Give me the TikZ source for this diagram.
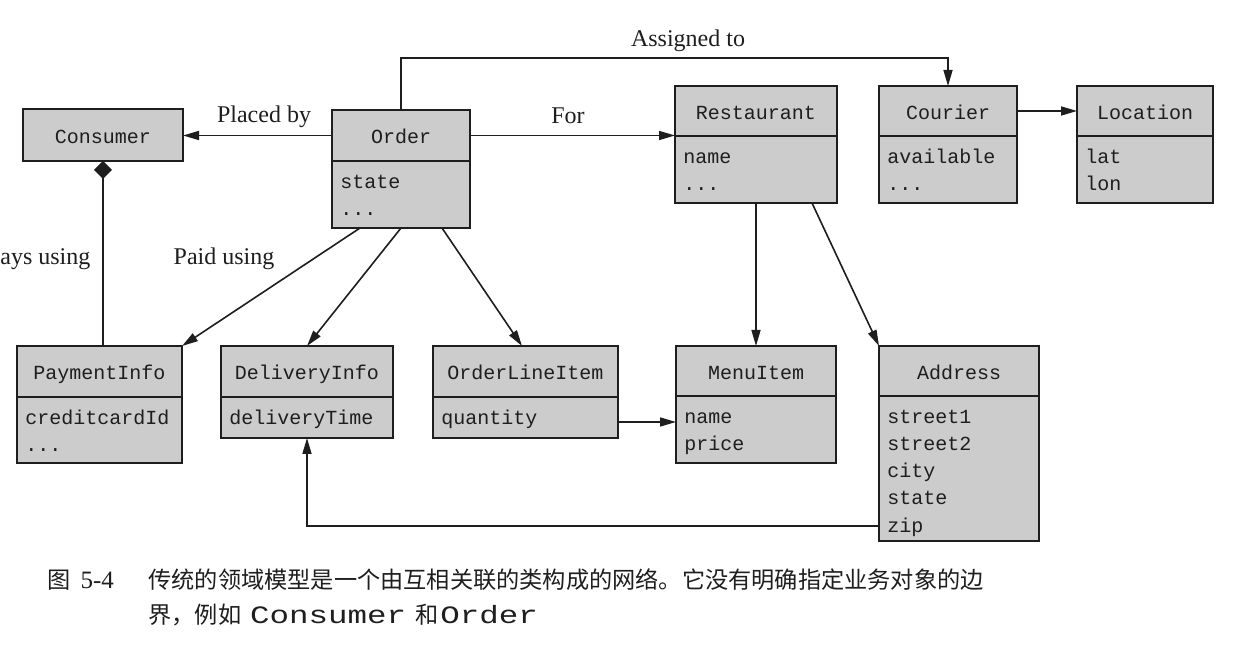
\documentclass[tikz,border=0pt]{standalone}
\usepackage{fontspec}
\setmainfont{Liberation Serif}
\newfontfamily\cjk{Noto Sans CJK SC}
\newfontfamily\monof{Liberation Mono}
\newfontfamily\capmono[FakeStretch=1.3]{Liberation Mono}
\usetikzlibrary{arrows.meta,calc}
\definecolor{boxfill}{RGB}{204,204,204}
\definecolor{ink}{RGB}{30,30,30}
\newcommand\ddd{...}
\tikzset{
  hdr/.style={draw=ink, fill=boxfill, line width=0.9pt, inner sep=0pt, outer sep=0pt,
    font=\monof\fontsize{10}{12}\selectfont, text=ink, text height=10pt, text depth=1.5pt},
  attrbox/.style={draw=ink, fill=boxfill, line width=0.9pt, inner sep=0pt, outer sep=0pt, anchor=north west},
  attr/.style={inner sep=0pt, anchor=base west, font=\monof\fontsize{10}{12}\selectfont, text=ink},
  conn/.style={draw=ink, line width=0.8pt},
  arr/.style={conn, -{Triangle[length=8pt,width=4.5pt]}},
  lbl/.style={inner sep=0pt, anchor=base, font=\fontsize{12}{14}\selectfont, text=ink},
  captxt/.style={inner sep=0pt, anchor=west, font=\cjk\fontsize{11.6}{14}\selectfont, text=ink},
}
\newcommand\umlcls[8]{%
  \node[hdr, minimum width={(#4-#2)/2*1pt}, minimum height={(#5-#3)/2*1pt}] (#1) at ({(#2+#4)/2},{(#3+#5)/2}) {#7};
  \node[attrbox, minimum width={(#4-#2)/2*1pt}, minimum height={(#6-#5)/2*1pt}] (#1-b) at (#2,#5) {};
  \foreach \t [count=\i] in {#8} {\node[attr] (#1-\i) at ([shift={(8,{28+27*(\i-1)})}]#1-b.north west) {\t};}
}
\begin{document}
\begin{tikzpicture}[x=0.5pt,y=-0.5pt]
\fill[white] (0,0) rectangle (1252,651);
\useasboundingbox (0,0) rectangle (1252,651);

% classes
\node[hdr, minimum width=80pt, minimum height=26pt] (consumer) at (103,135) {Consumer};
\umlcls{order}{332}{110}{470}{161}{228}{Order}{state,\ddd}
\umlcls{restaurant}{675}{86}{837}{136}{203}{Restaurant}{name,\ddd}
\umlcls{courier}{879}{86}{1017}{136}{203}{Courier}{available,\ddd}
\umlcls{location}{1077}{86}{1213}{136}{203}{Location}{lat,lon}
\umlcls{payment}{17}{346}{182}{397}{463}{PaymentInfo}{creditcardId,\ddd}
\umlcls{delivery}{221}{346}{393}{397}{438}{DeliveryInfo}{deliveryTime}
\umlcls{oli}{433}{346}{618}{397}{438}{OrderLineItem}{quantity}
\umlcls{menu}{676}{346}{836}{396}{463}{MenuItem}{name,price}
\umlcls{address}{879}{346}{1039}{396}{541}{Address}{street1,street2,city,state,zip}

% connectors
\draw[arr] (order.west) -- (order.west -| consumer.east);
\node[lbl] (lplaced) at (264,123) {Placed by};
\draw[arr] (order.east) -- (order.east -| restaurant.west);
\node[lbl] (lfor) at (568,124) {For};
\draw[arr] (order.north) -- ++(0,-52) -| (courier.north);
\node[lbl] (lassigned) at (688,47) {Assigned to};
\draw[arr] (courier.east) -- (location.west);
\draw[conn, {Diamond[length=9pt,width=9pt]}-] (consumer.south) -- (consumer.south |- payment.north);
\node[lbl, anchor=base west] (lpays) at (0,265) {ays using};
\node[lbl] (lpaid) at (224,265) {Paid using};
\draw[arr] ([shift={(28,0)}]order-b.south west) -- (payment.north east);
\draw[arr] (order-b.south) -- ([shift={(86,0)}]delivery.north west);
\draw[arr] ([shift={(110,0)}]order-b.south west) -- ([shift={(89,0)}]oli.north west);
\draw[arr] (restaurant-b.south) -- (menu.north);
\draw[arr] ([shift={(137,0)}]restaurant-b.south west) -- (address.north west);
\coordinate (olip) at ([shift={(0,25)}]oli-b.north east);
\draw[arr] (olip) -- (olip -| menu-b.west);
\coordinate (addrp) at ([shift={(0,130)}]address-b.north west);
\draw[arr] (addrp) -| (delivery-b.south);

% caption
\node[captxt] (figno) at (47,580) {图\hspace{5pt}{\rmfamily\fontsize{12.5}{14}\selectfont 5-4}};
\node[captxt] (cap1) at (148,580) {传统的领域模型是一个由互相关联的类构成的网络。它没有明确指定业务对象的边};
\node[captxt] (cap2) at (148,615) {界，例如\hspace{4.5pt}{\capmono\fontsize{12.5}{14}\selectfont Consumer}\hspace{4.5pt}和\hspace{1pt}{\capmono\fontsize{12.5}{14}\selectfont Order}};
\end{tikzpicture}
\end{document}
